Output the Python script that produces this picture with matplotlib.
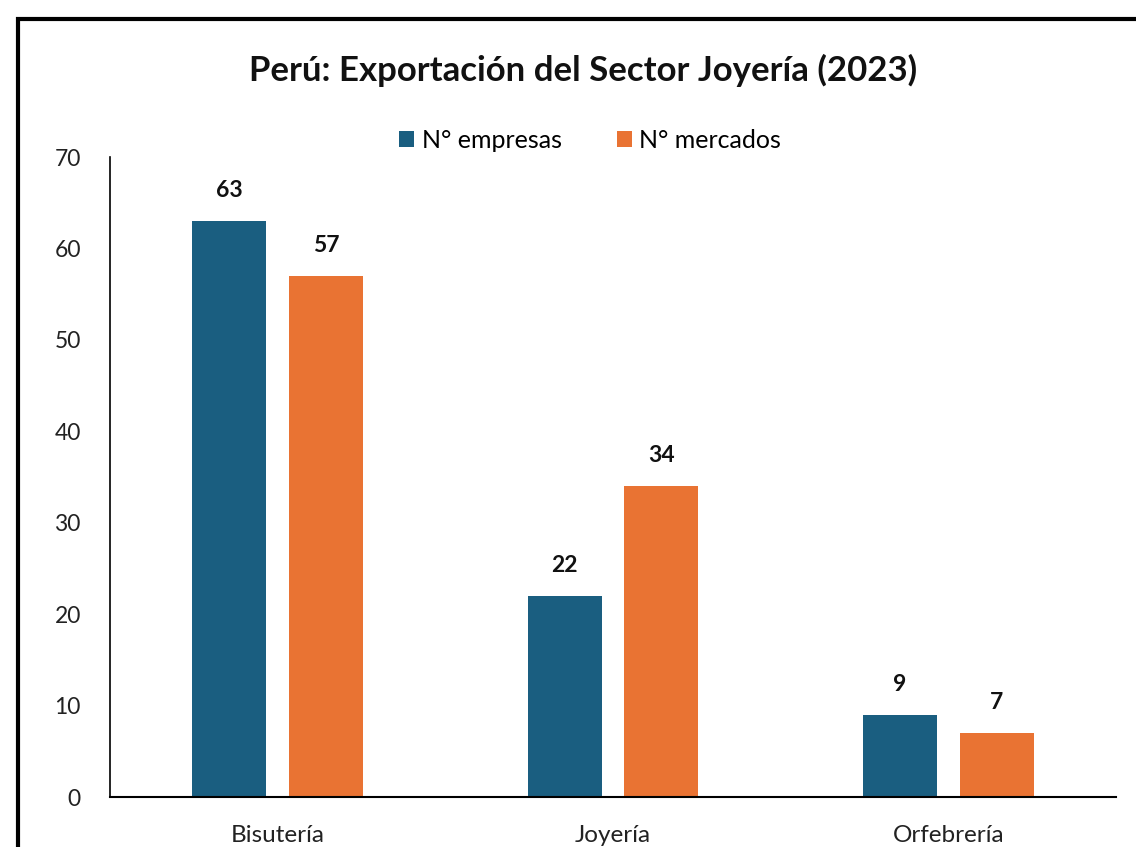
import matplotlib.pyplot as plt
import numpy as np
from matplotlib.patches import Rectangle

categorias = ["Bisutería", "Joyería", "Orfebrería"]
n_empresas = [63, 22, 9]
n_mercados = [57, 34, 7]

azul = "#1a5e80"
naranja = "#e97333"

plt.rcParams['font.family'] = ['Lato', 'DejaVu Sans']

fig = plt.figure(figsize=(11.36, 8.47), dpi=100)
ax = fig.add_axes([110/1136, 1 - 797/847, (1116 - 110)/1136, (797 - 157)/847])

x = np.arange(len(categorias))
w = 0.22
b1 = ax.bar(x - 0.144, n_empresas, w, color=azul, label="N° empresas")
b2 = ax.bar(x + 0.144, n_mercados, w, color=naranja, label="N° mercados")

for bars in (b1, b2):
    for r in bars:
        ax.text(r.get_x() + r.get_width()/2, r.get_height() + 2.2, f"{int(r.get_height())}",
                ha='center', va='bottom', fontsize=16.5, fontweight='bold', color='#111111')

ax.set_xlim(-0.5, 2.5)
ax.set_ylim(0, 70)
ax.set_yticks(range(0, 71, 10))
ax.set_xticks(x)
ax.set_xticklabels(categorias, fontsize=17.5, color='#222222')
ax.tick_params(axis='y', labelsize=16.5, length=0, pad=21, labelcolor='#222222')
ax.tick_params(axis='x', length=0, pad=20)
for s in ['top', 'right']:
    ax.spines[s].set_visible(False)
ax.spines['left'].set_linewidth(1.2)
ax.spines['bottom'].set_linewidth(1.5)

fig.text(583/1136, 1 - 70/847, "Perú: Exportación del Sector Joyería (2023)",
         ha='center', va='center', fontsize=25, fontweight='bold', color='#111111')

fig.legend(handles=[b1, b2], loc='center', bbox_to_anchor=(590/1136, 1 - 140/847),
           ncol=2, frameon=False, fontsize=18, handlelength=0.6, handleheight=0.6,
           handletextpad=0.3, columnspacing=2.2)

fig.patches.append(Rectangle((18/1136, -0.1), 1.2, 1 - 19/847 + 0.1, transform=fig.transFigure,
                             fill=False, edgecolor='black', linewidth=3, clip_on=False))

fig.savefig("out.png", dpi=100)
